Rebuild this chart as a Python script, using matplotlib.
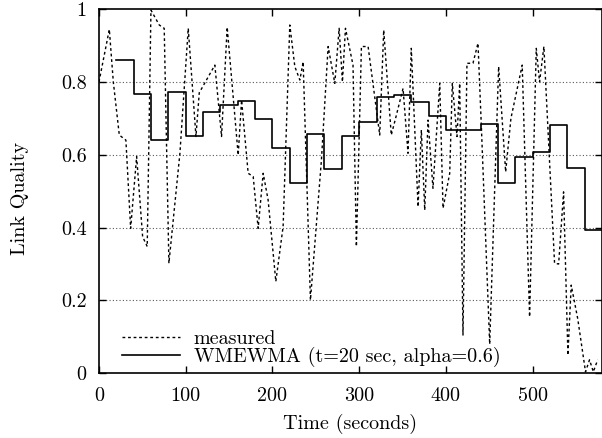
import numpy as np
import matplotlib
matplotlib.use('Agg')
from matplotlib import pyplot as plt

plt.rcParams['font.family'] = ['cmr10', 'DejaVu Serif']
plt.rcParams['axes.formatter.use_mathtext'] = True

# measured link quality (time in seconds, quality)
meas_t = [0, 11.9, 16.5, 23.4, 31, 36.5, 43.4, 50.3, 55.6, 59.9, 69.5, 75.2, 80.6, 93.3,
          102.9, 111.8, 115.6, 133.6, 141.3, 147.8, 160.5, 164.4, 172, 177.8, 183.5, 189.3,
          195, 203.9, 212.3, 220, 225.8, 231.6, 235.4, 243.8, 256.5, 264.2, 271.9, 276.9,
          280.7, 284.2, 292.9, 296.8, 302.6, 310.3, 323.7, 328.3, 337, 342, 350.6, 356.3,
          360.1, 367.9, 371.7, 375.6, 379.4, 385.1, 392.9, 396.7, 404.4, 407.4, 412.8, 415.9,
          419.7, 424.3, 431.2, 437, 440.9, 450.5, 460.8, 468.9, 475, 488, 496.5, 504.2, 508,
          513, 525.3, 530, 535.7, 540.7, 544.5, 552, 561, 565.6, 570, 575]
meas_q = [0.80, 0.944, 0.80, 0.654, 0.64, 0.398, 0.595, 0.375, 0.348, 0.997, 0.956, 0.947, 0.302, 0.604,
          0.947, 0.650, 0.77, 0.846, 0.65, 0.95, 0.599, 0.75, 0.549, 0.54, 0.398, 0.549,
          0.476, 0.252, 0.403, 0.956, 0.842, 0.805, 0.855, 0.201, 0.586, 0.897, 0.796, 0.947,
          0.80, 0.947, 0.846, 0.348, 0.897, 0.897, 0.654, 0.942, 0.654, 0.70, 0.782, 0.604,
          0.892, 0.457, 0.668, 0.448, 0.695, 0.508, 0.796, 0.453, 0.549, 0.796, 0.65, 0.796,
          0.105, 0.851, 0.851, 0.906, 0.677, 0.08, 0.842, 0.553, 0.70, 0.846, 0.155, 0.892, 0.80,
          0.897, 0.302, 0.30, 0.498, 0.05, 0.242, 0.15, 0.004, 0.037, 0.004, 0.037]

# WMEWMA estimate, one value per 20 s window
est_t = [20, 40, 60, 80, 100, 120, 140, 160, 180, 200, 220, 240, 260, 280, 300,
         320, 340, 360, 380, 400, 420, 440, 460, 480, 500, 520, 540, 560, 580]
est_q = [0.859, 0.767, 0.640, 0.772, 0.651, 0.716, 0.737, 0.748, 0.697, 0.619, 0.522, 0.657,
         0.562, 0.651, 0.689, 0.758, 0.765, 0.745, 0.706, 0.668, 0.667, 0.684, 0.523, 0.595,
         0.608, 0.681, 0.563, 0.393, 0.393]

y_ticks = [0, 0.2, 0.4, 0.6, 0.8, 1]
y_labels = ['0', '0.2', '0.4', '0.6', '0.8', '1']
x_ticks = [0, 100, 200, 300, 400, 500]

fs = 14.5

fig = plt.figure(figsize=(6.02, 4.38), dpi=100)
ax = fig.add_axes([99/602, 1 - 373.3/438, 503/602, 364.3/438])

for yv in y_ticks[1:-1]:
    ax.axhline(yv, color='0.35', lw=0.8, ls=(0, (1, 2)), zorder=1)

ax.plot(meas_t, meas_q, color='black', lw=1.0, ls=(0, (2, 2)), label='measured', zorder=3)
ax.step(est_t, est_q, where='post', color='black', lw=1.2, label='WMEWMA (t=20 sec, alpha=0.6)', zorder=4)

ax.set_xlim(0, 580)
ax.set_ylim(0, 1)
ax.set_xticks(x_ticks)
ax.set_xticklabels([str(v) for v in x_ticks])
ax.set_yticks(y_ticks)
ax.set_yticklabels(y_labels)
ax.tick_params(direction='in', length=5, width=1, top=True, right=True, labelsize=fs)
ax.tick_params(axis='y', pad=9)
ax.tick_params(axis='x', pad=10)
for s in ax.spines.values():
    s.set_linewidth(1.2)

ax.set_xlabel('Time (seconds)', fontsize=fs, labelpad=6)
ax.set_ylabel('Link Quality', fontsize=fs, labelpad=23, y=0.481)

ax.legend(loc='lower left', bbox_to_anchor=(0.022, -0.016), frameon=False, fontsize=fs,
          handlelength=2.85, handletextpad=0.7, labelspacing=-0.07, borderpad=0.1)

fig.savefig('out.png', dpi=100)
